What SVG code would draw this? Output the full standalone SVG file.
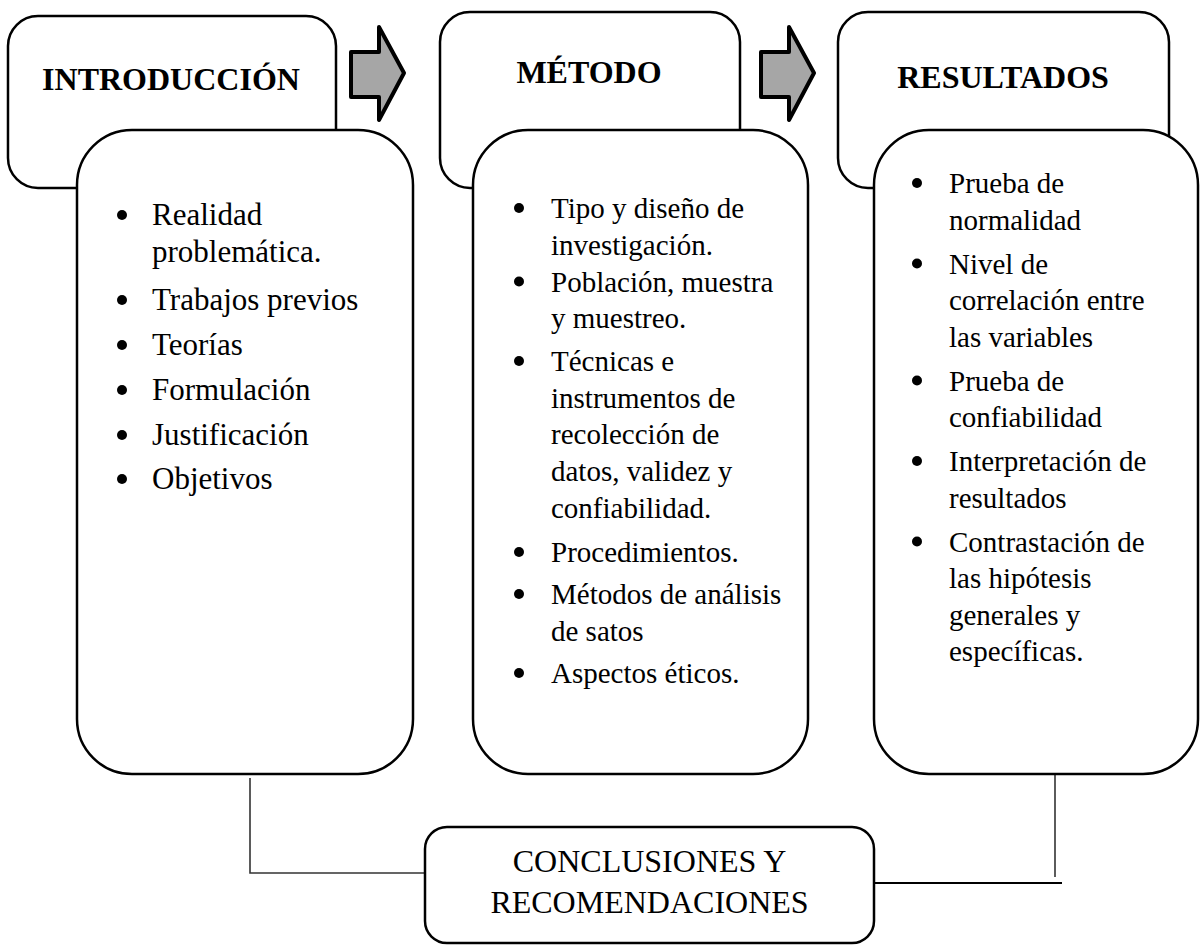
<svg xmlns="http://www.w3.org/2000/svg" width="1200" height="950" viewBox="0 0 1200 950">
<style>
.box{fill:#fff;stroke:#000;stroke-width:2.5}
.arrow{fill:#a6a6a6;stroke:#000;stroke-width:4;stroke-linejoin:round}
.h{font-family:"Liberation Serif","Times New Roman",serif;font-weight:bold;font-size:32px;fill:#000;text-anchor:middle}
.t{font-family:"Liberation Serif","Times New Roman",serif;font-size:29px;fill:#000}
.ti{font-family:"Liberation Serif","Times New Roman",serif;font-size:31px;fill:#000}
.c{font-family:"Liberation Serif","Times New Roman",serif;font-size:32px;fill:#000;text-anchor:middle}
.conn{fill:none;stroke:#333;stroke-width:1.6}
</style>
<rect width="1200" height="950" fill="#fff"/>
<g id="connectors">
<polyline class="conn" points="250,778 250,873 425,873"/>
<polyline class="conn" points="1055,775 1055,877"/>
<line x1="874" y1="883" x2="1062" y2="883" stroke="#000" stroke-width="2"/>
<polygon class="arrow" points="351,52 379,52 379,27 404,73 379,120 379,97 351,97"/>
<polygon class="arrow" points="761,52 789,52 789,27 814,73 789,120 789,97 761,97"/>
</g>
<g id="introduccion">
<rect class="box" x="8" y="16" width="328" height="172" rx="30"/>
<text class="h" x="171" y="90">INTRODUCCIÓN</text>
</g>
<g id="introduccion-contenido">
<rect class="box" x="77" y="130" width="336" height="644" rx="55"/>
<g fill="#000"><circle cx="122" cy="215" r="5"/><circle cx="122" cy="300" r="5"/><circle cx="122" cy="345" r="5"/><circle cx="122" cy="390" r="5"/><circle cx="122" cy="435" r="5"/><circle cx="122" cy="479" r="5"/></g>
<text class="ti" x="152" y="225">Realidad</text>
<text class="ti" x="152" y="262">problemática.</text>
<text class="ti" x="152" y="310">Trabajos previos</text>
<text class="ti" x="152" y="355">Teorías</text>
<text class="ti" x="152" y="400">Formulación</text>
<text class="ti" x="152" y="445">Justificación</text>
<text class="ti" x="152" y="489">Objetivos</text>
</g>
<g id="metodo">
<rect class="box" x="440" y="12" width="300" height="176" rx="30"/>
<text class="h" x="589" y="83">MÉTODO</text>
</g>
<g id="metodo-contenido">
<rect class="box" x="473" y="130" width="335" height="644" rx="55"/>
<g fill="#000"><circle cx="519" cy="208" r="5"/><circle cx="519" cy="281.5" r="5"/><circle cx="519" cy="361" r="5"/><circle cx="519" cy="552" r="5"/><circle cx="519" cy="594" r="5"/><circle cx="519" cy="673" r="5"/></g>
<text class="t" x="551" y="218">Tipo y diseño de</text>
<text class="t" x="551" y="255">investigación.</text>
<text class="t" x="551" y="291.5">Población, muestra</text>
<text class="t" x="551" y="327.5">y muestreo.</text>
<text class="t" x="551" y="371">Técnicas e</text>
<text class="t" x="551" y="407.5">instrumentos de</text>
<text class="t" x="551" y="444">recolección de</text>
<text class="t" x="551" y="480.5">datos, validez y</text>
<text class="t" x="551" y="517.5">confiabilidad.</text>
<text class="t" x="551" y="562">Procedimientos.</text>
<text class="t" x="551" y="604">Métodos de análisis</text>
<text class="t" x="551" y="640.5">de satos</text>
<text class="t" x="551" y="683">Aspectos éticos.</text>
</g>
<g id="resultados">
<rect class="box" x="838" y="12" width="331" height="176" rx="30"/>
<text class="h" x="1003" y="88">RESULTADOS</text>
</g>
<g id="resultados-contenido">
<rect class="box" x="874" y="130" width="324" height="644" rx="55"/>
<g fill="#000"><circle cx="917" cy="183" r="5"/><circle cx="917" cy="263.5" r="5"/><circle cx="917" cy="380.5" r="5"/><circle cx="917" cy="461" r="5"/><circle cx="917" cy="541.5" r="5"/></g>
<text class="t" x="949" y="193">Prueba de</text>
<text class="t" x="949" y="229.5">normalidad</text>
<text class="t" x="949" y="273.5">Nivel de</text>
<text class="t" x="949" y="310">correlación entre</text>
<text class="t" x="949" y="346.5">las variables</text>
<text class="t" x="949" y="390.5">Prueba de</text>
<text class="t" x="949" y="427">confiabilidad</text>
<text class="t" x="949" y="471">Interpretación de</text>
<text class="t" x="949" y="507.5">resultados</text>
<text class="t" x="949" y="551.5">Contrastación de</text>
<text class="t" x="949" y="588">las hipótesis</text>
<text class="t" x="949" y="624.5">generales y</text>
<text class="t" x="949" y="661">específicas.</text>
</g>
<g id="conclusiones">
<rect class="box" x="425" y="827" width="449" height="116" rx="22"/>
<text class="c" x="649.5" y="872">CONCLUSIONES Y</text>
<text class="c" x="649.5" y="913">RECOMENDACIONES</text>
</g>
</svg>
